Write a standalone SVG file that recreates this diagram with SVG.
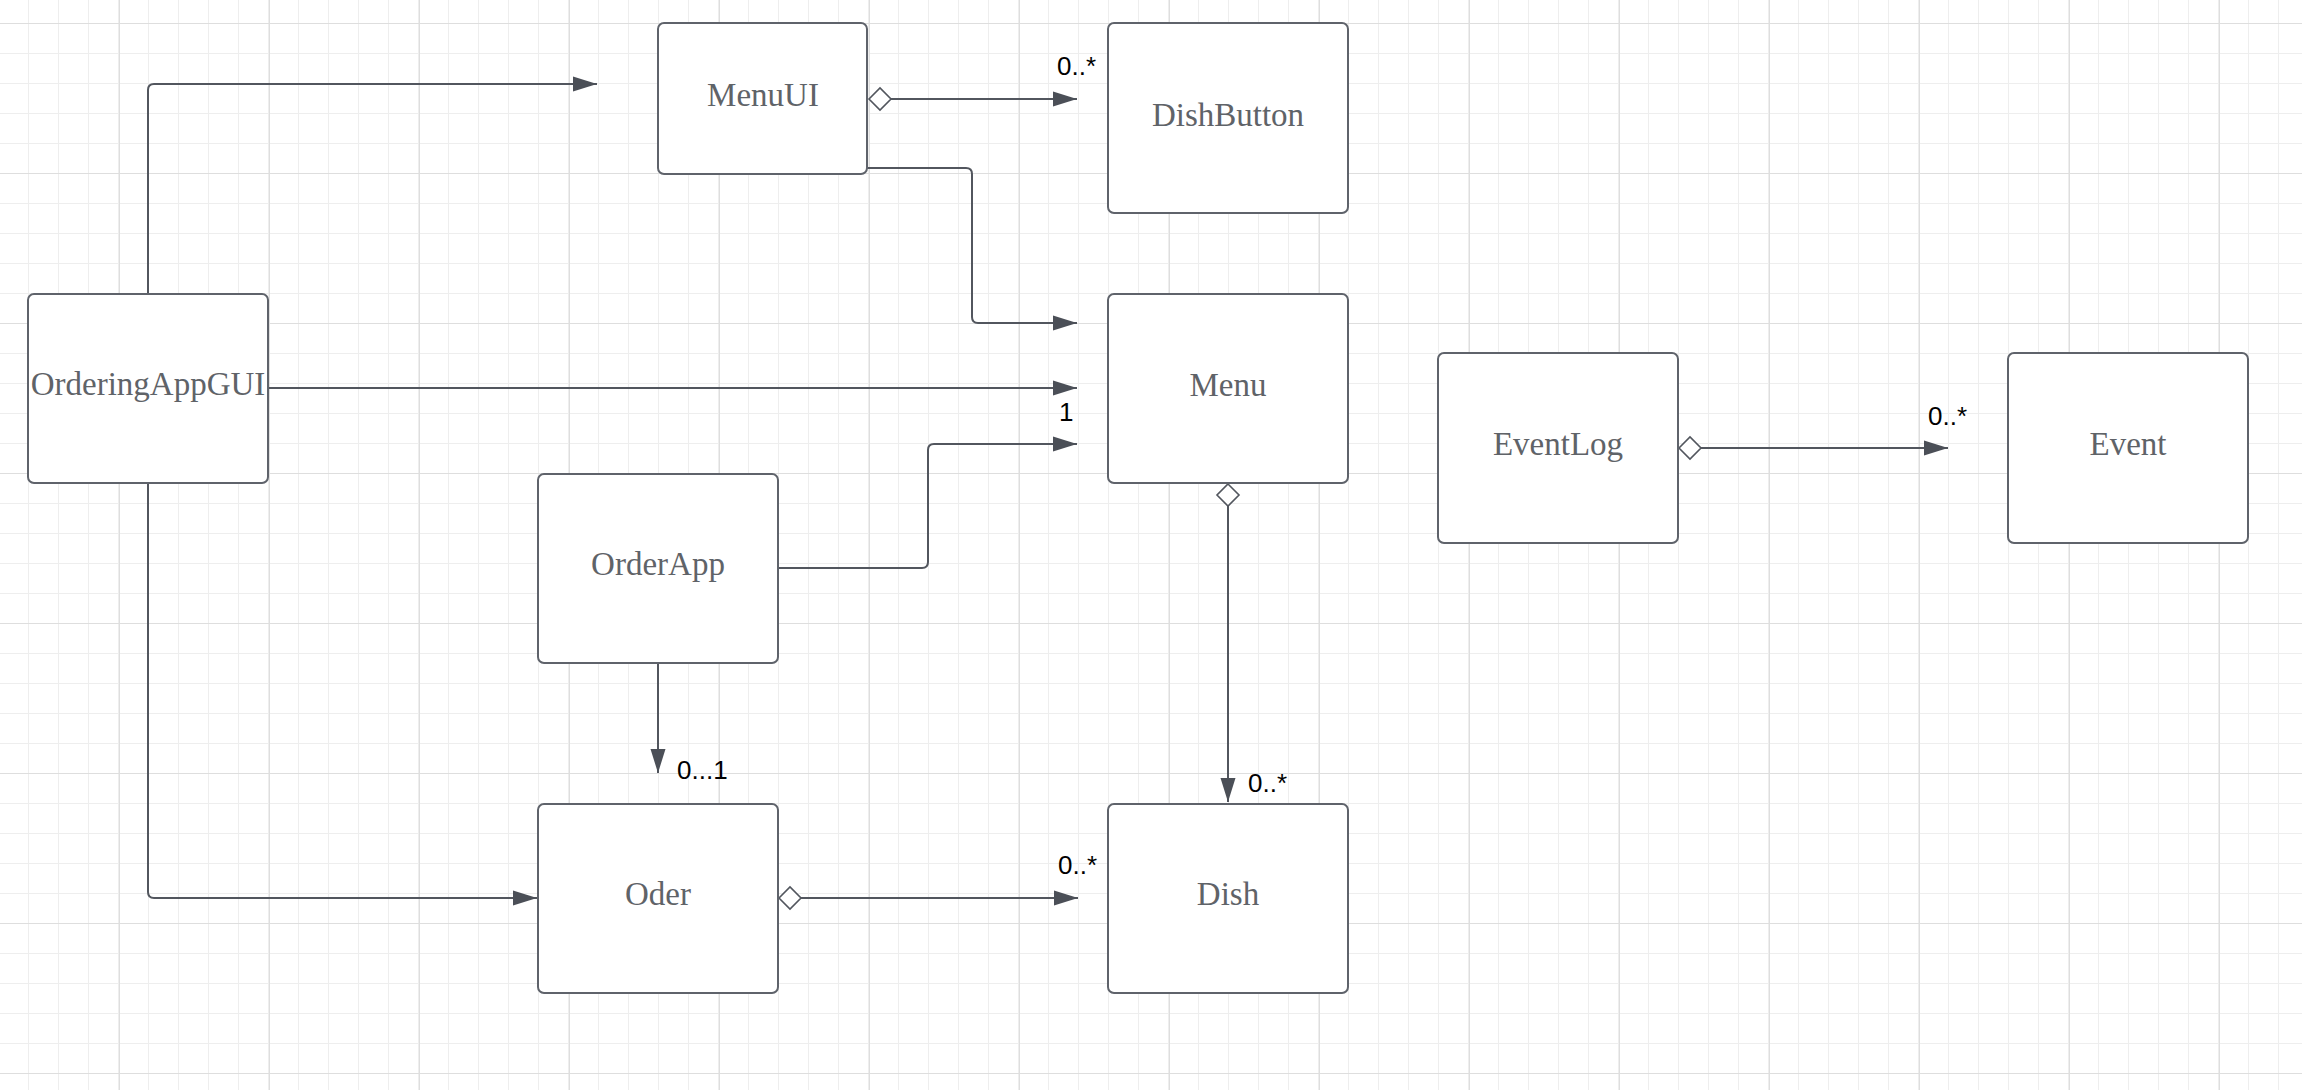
<svg xmlns="http://www.w3.org/2000/svg" width="2302" height="1090" viewBox="0 0 2302 1090">
<style>
.node rect{fill:#ffffff;stroke:#5f636b;stroke-width:2}
.node text{font-family:"Liberation Serif","Times New Roman",serif;font-size:33px;fill:#5f6368;text-anchor:middle}
.conn{fill:none;stroke:#52565e;stroke-width:2}
.lbl{font-family:"Liberation Sans",Arial,sans-serif;font-size:26px;fill:#000000}
</style>
<defs>
<pattern id="gMinor" width="30" height="30" patternUnits="userSpaceOnUse" x="28" y="23">
<path d="M0 0.5H30M0.5 0V30" stroke="#eeeeee" stroke-width="1" fill="none"/>
</pattern>
<pattern id="gMajor" width="150" height="150" patternUnits="userSpaceOnUse" x="119" y="23">
<path d="M0 0.5H150M0.5 0V150" stroke="#dedede" stroke-width="1" fill="none"/>
</pattern>
<marker id="arrow" markerUnits="userSpaceOnUse" markerWidth="26" markerHeight="17" refX="24" refY="8.5" orient="auto" overflow="visible">
<path d="M0,1 L24,8.5 L0,16 Z" fill="#4b4f57"/>
</marker>
<marker id="diamond" markerUnits="userSpaceOnUse" markerWidth="26" markerHeight="26" refX="1" refY="12" orient="auto" overflow="visible">
<path d="M1,12 L12,1 L23,12 L12,23 Z" fill="#ffffff" stroke="#52565e" stroke-width="1.6"/>
</marker>
</defs>
<rect x="0" y="0" width="2302" height="1090" fill="#ffffff"/>
<rect x="0" y="0" width="2302" height="1090" fill="url(#gMinor)"/>
<rect x="0" y="0" width="2302" height="1090" fill="url(#gMajor)"/>

<g id="connectors">
<path class="conn" d="M148,294 V90 Q148,84 154,84 H597" marker-end="url(#arrow)"/>
<path class="conn" d="M869,99 H1077" marker-start="url(#diamond)" marker-end="url(#arrow)"/>
<path class="conn" d="M867,168 H966 Q972,168 972,174 V317 Q972,323 978,323 H1077" marker-end="url(#arrow)"/>
<path class="conn" d="M268,388 H1077" marker-end="url(#arrow)"/>
<path class="conn" d="M778,568 H922 Q928,568 928,562 V450 Q928,444 934,444 H1077" marker-end="url(#arrow)"/>
<path class="conn" d="M1228,484 V802" marker-start="url(#diamond)" marker-end="url(#arrow)"/>
<path class="conn" d="M658,663 V773" marker-end="url(#arrow)"/>
<path class="conn" d="M148,483 V892 Q148,898 154,898 H537" marker-end="url(#arrow)"/>
<path class="conn" d="M779,898 H1078" marker-start="url(#diamond)" marker-end="url(#arrow)"/>
<path class="conn" d="M1679,448 H1948" marker-start="url(#diamond)" marker-end="url(#arrow)"/>
<text class="lbl" x="1057" y="75">0..*</text>
<text class="lbl" x="1059" y="421">1</text>
<text class="lbl" x="677" y="779">0...1</text>
<text class="lbl" x="1248" y="792">0..*</text>
<text class="lbl" x="1058" y="874">0..*</text>
<text class="lbl" x="1928" y="425">0..*</text>
</g>

<g id="OrderingAppGUI" class="node"><rect x="28" y="294" width="240" height="189" rx="6"/><text x="148" y="395">OrderingAppGUI</text></g>
<g id="MenuUI" class="node"><rect x="658" y="23" width="209" height="151" rx="6"/><text x="763" y="106">MenuUI</text></g>
<g id="DishButton" class="node"><rect x="1108" y="23" width="240" height="190" rx="6"/><text x="1228" y="126">DishButton</text></g>
<g id="Menu" class="node"><rect x="1108" y="294" width="240" height="189" rx="6"/><text x="1228" y="396">Menu</text></g>
<g id="EventLog" class="node"><rect x="1438" y="353" width="240" height="190" rx="6"/><text x="1558" y="455">EventLog</text></g>
<g id="Event" class="node"><rect x="2008" y="353" width="240" height="190" rx="6"/><text x="2128" y="455">Event</text></g>
<g id="OrderApp" class="node"><rect x="538" y="474" width="240" height="189" rx="6"/><text x="658" y="575">OrderApp</text></g>
<g id="Oder" class="node"><rect x="538" y="804" width="240" height="189" rx="6"/><text x="658" y="905">Oder</text></g>
<g id="Dish" class="node"><rect x="1108" y="804" width="240" height="189" rx="6"/><text x="1228" y="905">Dish</text></g>
</svg>
